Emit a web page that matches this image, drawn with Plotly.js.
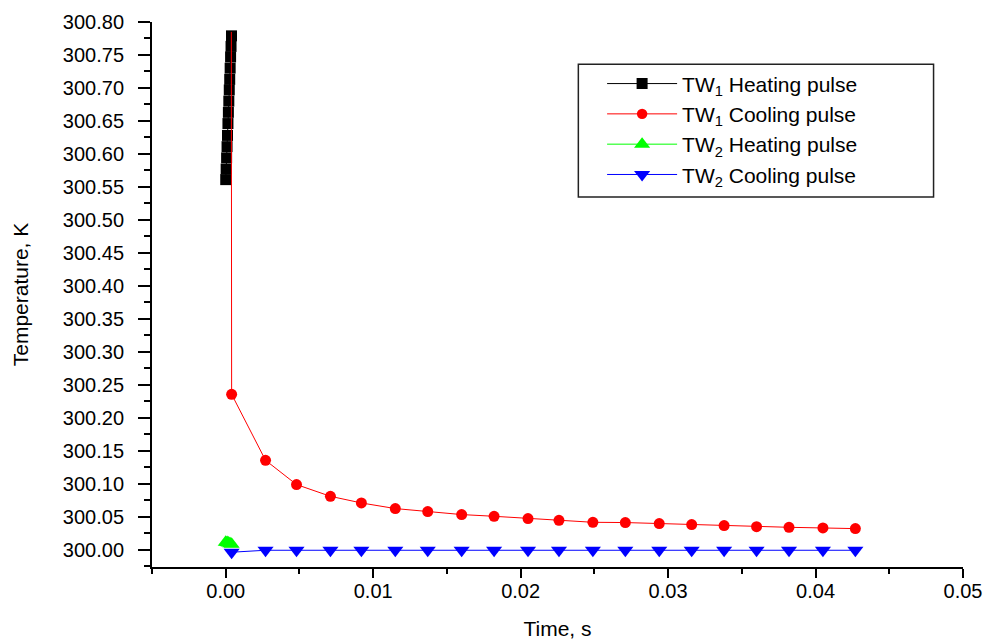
<!DOCTYPE html>
<html>
<head>
<meta charset="utf-8">
<script src="https://cdn.plot.ly/plotly-3.0.1.min.js"></script>
<style>html,body{margin:0;padding:0;background:#fff;}#chart{width:991px;height:642px;}</style>
</head>
<body>
<div id="chart"></div>
<script>
// TW1 heating pulse (black squares)
const tw1HeatTime = [0.00000, 0.00003, 0.00006, 0.00009, 0.00012, 0.00015, 0.00018, 0.00021, 0.00024, 0.00027, 0.00030, 0.00033, 0.00036, 0.00039];
const tw1HeatTemp = [300.561, 300.577, 300.594, 300.611, 300.628, 300.646, 300.663, 300.680, 300.697, 300.713, 300.730, 300.747, 300.763, 300.779];

// TW1 cooling pulse (red circles)
const tw1CoolTime = [0.00038, 0.0004, 0.0027, 0.0048, 0.0071, 0.0092, 0.0115, 0.0137, 0.0160, 0.0182, 0.0205, 0.0226, 0.0249, 0.0271, 0.0294, 0.0316, 0.0338, 0.0360, 0.0382, 0.0405, 0.0427];
const tw1CoolTemp = [300.785, 300.2355, 300.1354, 300.0986, 300.0808, 300.0707, 300.0622, 300.0576, 300.0531, 300.0505, 300.0470, 300.0444, 300.0414, 300.0410, 300.0394, 300.0379, 300.0364, 300.0348, 300.0338, 300.0328, 300.0318];

// TW2 heating pulse (green triangles)
const tw2HeatTime = [0.00000, 0.00010, 0.00020, 0.00030, 0.00040];
const tw2HeatTemp = [300.0110, 300.0108, 300.0100, 300.0090, 300.0082];

// TW2 cooling pulse (blue inverted triangles)
const tw2CoolTime = [0.0004, 0.0027, 0.0048, 0.0071, 0.0092, 0.0115, 0.0137, 0.0160, 0.0182, 0.0205, 0.0226, 0.0249, 0.0271, 0.0294, 0.0316, 0.0338, 0.0360, 0.0382, 0.0405, 0.0427];
const tw2CoolTemp = [299.9960, 299.9990, 299.9990, 299.9990, 299.9990, 299.9990, 299.9990, 299.9990, 299.9990, 299.9990, 299.9990, 299.9990, 299.9990, 299.9990, 299.9990, 299.9990, 299.9990, 299.9990, 299.9990, 299.9990];

const seriesNames = ['TW<sub>1</sub> Heating pulse', 'TW<sub>1</sub> Cooling pulse', 'TW<sub>2</sub> Heating pulse', 'TW<sub>2</sub> Cooling pulse'];

const FONT = 'Liberation Sans, Arial, sans-serif';

const redSizes = tw1CoolTime.map((_, i) => (i === 0 ? 0 : 11));

const traces = [
  {x: tw1HeatTime, y: tw1HeatTemp, name: seriesNames[0], mode: 'lines+markers',
   line: {color: '#000000', width: 1}, marker: {symbol: 'square', size: 11, color: '#000000', opacity: 1, line: {width: 0}}},
  {x: tw1CoolTime, y: tw1CoolTemp, name: seriesNames[1], mode: 'lines+markers',
   line: {color: '#ff0000', width: 1}, marker: {symbol: 'circle', size: redSizes, color: '#ff0000', opacity: 1, line: {width: 0}}},
  {x: tw2HeatTime, y: tw2HeatTemp, name: seriesNames[2], mode: 'lines+markers',
   line: {color: '#00ff00', width: 1}, marker: {symbol: 'triangle-up', size: 14, color: '#00ff00', opacity: 1, line: {width: 0}}},
  {x: tw2CoolTime, y: tw2CoolTemp, name: seriesNames[3], mode: 'lines+markers',
   line: {color: '#0000ff', width: 1}, marker: {symbol: 'triangle-down', size: 14, color: '#0000ff', opacity: 1, line: {width: 0}}}
];

const layout = {
  width: 991, height: 642,
  margin: {l: 152, r: 28, t: 22, b: 75, pad: 0},
  paper_bgcolor: '#ffffff', plot_bgcolor: '#ffffff',
  font: {family: FONT, color: '#000000', size: 20},
  showlegend: true,
  legend: {x: 0.555, y: 0.924, xanchor: 'left', yanchor: 'top', bgcolor: 'rgba(0,0,0,0)',
           borderwidth: 0, font: {family: FONT, size: 21, color: '#000'}, itemwidth: 70, tracegroupgap: 0},
  xaxis: {
    range: [-0.005, 0.05], showgrid: false, zeroline: false, showline: true, linecolor: '#000', linewidth: 2,
    ticks: 'outside', ticklen: 9, tickwidth: 2, tickcolor: '#000', dtick: 0.01, tick0: 0, tickformat: '.2f',
    tickfont: {family: FONT, size: 20}, ticklabelstandoff: -4,
    minor: {dtick: 0.005, ticklen: 5, tickwidth: 2, tickcolor: '#000', ticks: 'outside', showgrid: false},
    title: {text: 'Time, s', font: {family: FONT, size: 21}, standoff: 20}
  },
  yaxis: {
    range: [299.9736, 300.8], showgrid: false, zeroline: false, showline: true, linecolor: '#000', linewidth: 2,
    ticks: 'outside', ticklen: 12, tickwidth: 2, tickcolor: '#000', dtick: 0.05, tick0: 300, tickformat: '.2f',
    tickfont: {family: FONT, size: 20}, ticklabelstandoff: 10,
    minor: {dtick: 0.025, ticklen: 6, tickwidth: 2, tickcolor: '#000', ticks: 'outside', showgrid: false},
    title: {text: 'Temperature, K', font: {family: FONT, size: 21}, standoff: 28}
  },
  shapes: [
    {type: 'rect', xref: 'paper', yref: 'paper', x0: 0.5257, x1: 0.9637, y0: 0.6789, y1: 0.9224,
     line: {color: '#222', width: 1.5}, fillcolor: 'rgba(0,0,0,0)'}
  ]
};

Plotly.newPlot('chart', traces, layout, {displayModeBar: false, staticPlot: true});
</script>
</body>
</html>
